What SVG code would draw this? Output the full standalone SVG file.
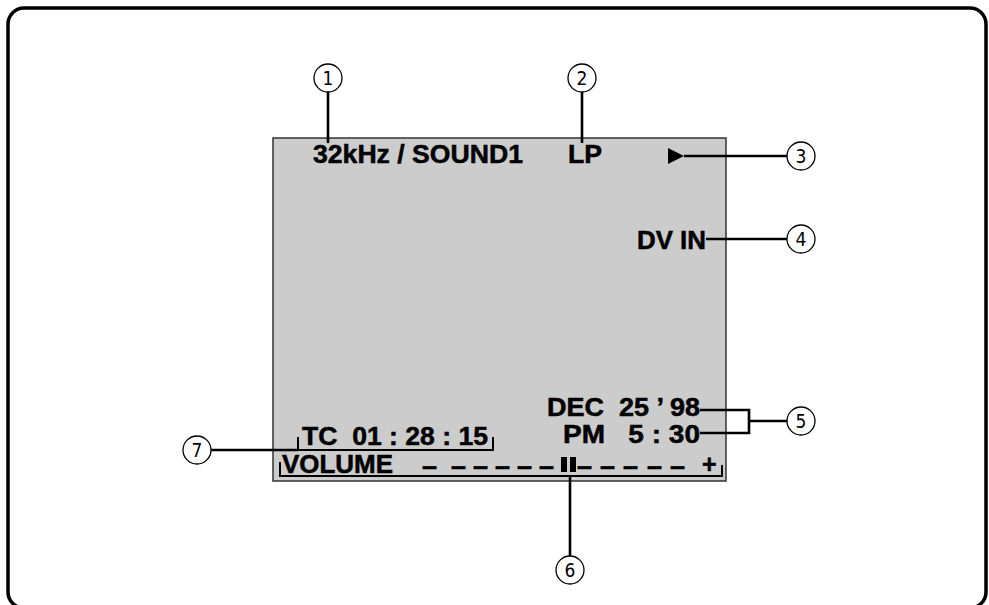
<svg xmlns="http://www.w3.org/2000/svg" width="989" height="605" viewBox="0 0 989 605">
<style>
.t{font-family:"Liberation Sans",Arial,sans-serif;font-weight:bold;font-size:25px;fill:#000;stroke:#000;stroke-width:0.5;white-space:pre}
.d{font-family:"Liberation Sans",Arial,sans-serif;font-weight:bold;font-size:27px;fill:#000;stroke:#000;stroke-width:0.6}
.n{font-family:"Liberation Sans Narrow","DejaVu Sans Condensed","Liberation Sans",sans-serif;font-size:19px;fill:#000;text-anchor:middle}
.c{fill:#fff;stroke:#000;stroke-width:1.3}
.l{fill:none;stroke:#000;stroke-width:2.6}
.b{fill:none;stroke:#000;stroke-width:2}
</style>
<rect x="8" y="8" width="978" height="600" rx="16" fill="#fff" stroke="#000" stroke-width="3.5"/>
<g id="screen">
<rect x="273" y="138" width="453" height="343" fill="#cccccc" stroke="#333" stroke-width="1.5"/>
<text class="t" x="313" y="163" textLength="210" lengthAdjust="spacingAndGlyphs">32kHz / SOUND1</text>
<text class="t" x="568" y="163" textLength="34" lengthAdjust="spacingAndGlyphs">LP</text>
<polygon points="668,148 684,156 668,164" fill="#000"/>
<text class="t" x="637" y="249" textLength="69" lengthAdjust="spacingAndGlyphs">DV IN</text>
<text class="t" x="547" y="416" textLength="153" lengthAdjust="spacingAndGlyphs">DEC  25 ’ 98</text>
<text class="t" x="563" y="443" textLength="137" lengthAdjust="spacingAndGlyphs">PM   5 : 30</text>
<text class="t" x="302" y="445" textLength="186" lengthAdjust="spacingAndGlyphs">TC  01 : 28 : 15</text>
<text class="t" x="282" y="473" textLength="111" lengthAdjust="spacingAndGlyphs">VOLUME</text>
<text class="d" x="422 451 473 495 517 539" y="475">––––––</text>
<rect x="561" y="457" width="6" height="15" fill="#000"/>
<rect x="570" y="457" width="6" height="15" fill="#000"/>
<text class="d" x="577 600 623 647 670" y="475">–––––</text>
<text class="t" x="702" y="473">+</text>
<path class="b" d="M298,437 V450 H493 V437"/>
<path class="b" d="M280,462 V476 H722 V465"/>
</g>
<g id="connectors">
<path class="l" d="M328,92 V143"/>
<path class="l" d="M582,92 V143"/>
<path class="l" d="M684,156 H787"/>
<path class="l" d="M706,239 H787"/>
<path class="l" d="M700,410 H749 V433 H700 M749,421 H787"/>
<path class="l" d="M570,476 V556"/>
<path class="l" d="M211,450 H298"/>
</g>
<g id="c1"><circle class="c" cx="328" cy="78" r="14"/><text class="n" x="328" y="85">1</text></g>
<g id="c2"><circle class="c" cx="582" cy="78" r="14"/><text class="n" x="582" y="85">2</text></g>
<g id="c3"><circle class="c" cx="801" cy="156" r="14"/><text class="n" x="801" y="163">3</text></g>
<g id="c4"><circle class="c" cx="801" cy="239" r="14"/><text class="n" x="801" y="246">4</text></g>
<g id="c5"><circle class="c" cx="801" cy="421" r="14"/><text class="n" x="801" y="428">5</text></g>
<g id="c6"><circle class="c" cx="570" cy="570" r="14"/><text class="n" x="570" y="577">6</text></g>
<g id="c7"><circle class="c" cx="197" cy="450" r="14"/><text class="n" x="197" y="457">7</text></g>
</svg>
